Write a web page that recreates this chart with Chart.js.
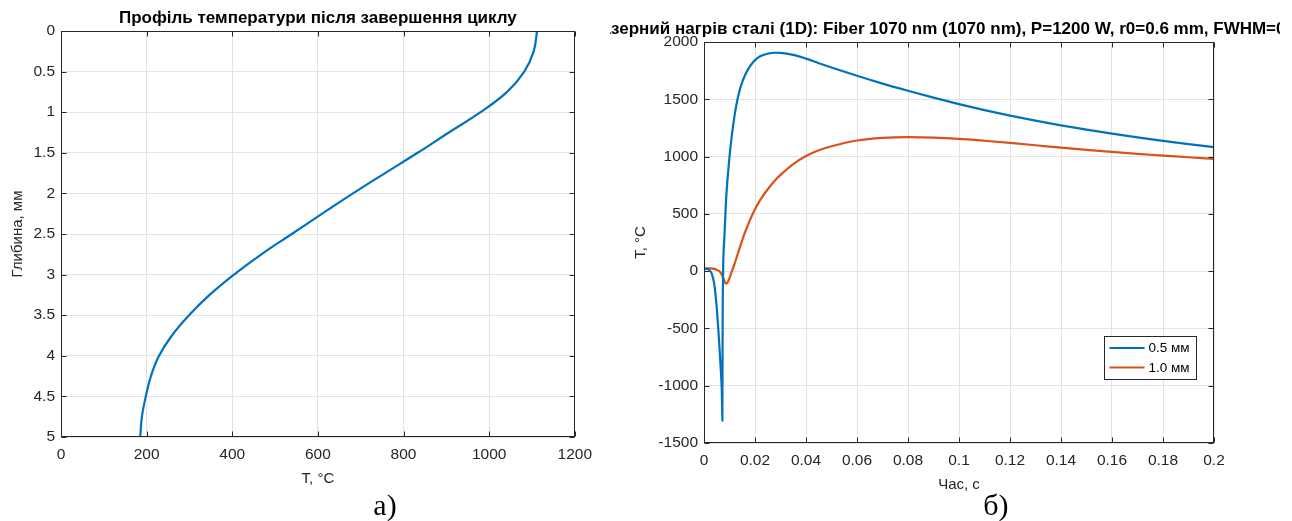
<!DOCTYPE html>
<html lang="uk">
<head>
<meta charset="utf-8">
<title>Профіль температури / Лазерний нагрів сталі</title>
<script src="https://cdn.jsdelivr.net/npm/chart.js@4.4.1/dist/chart.umd.min.js"></script>
<style>
  html, body { margin: 0; padding: 0; background: #fff; }
  body { position: relative; width: 1292px; height: 521px; overflow: hidden; }
  #graficoA { position: absolute; left: 0; top: 0; }
  #graficoB { position: absolute; left: 610px; top: 0; }
  .subtitulo {
    position: absolute; top: 488px; width: 60px; text-align: center;
    font-family: "Liberation Serif", "Times New Roman", serif; font-size: 30px; line-height: 34px; color: #000;
  }
</style>
</head>
<body>
<canvas id="graficoA" width="600" height="489"></canvas>
<canvas id="graficoB" width="670" height="495"></canvas>
<div class="subtitulo" style="left:355px">а)</div>
<div class="subtitulo" style="left:966px">б)</div>
<script>
// Datos del perfil (a): profundidad en mm y temperatura en °C
const profundidad = [0, 0.25, 0.5, 0.75, 1, 1.25, 1.5, 1.75, 2, 2.25, 2.5, 2.75, 3, 3.25, 3.5, 3.75, 4, 4.25, 4.5, 4.75, 5];
const tempPerfil = [1112, 1104, 1082, 1042, 980, 906, 833, 757, 682, 610, 539, 468, 404, 347, 299, 259, 229, 210, 198, 189, 185];
const ticksTempA = [0, 200, 400, 600, 800, 1000, 1200];
const ticksProf = [0, 0.5, 1, 1.5, 2, 2.5, 3, 3.5, 4, 4.5, 5];

// Datos del calentamiento (б): tiempo en s y temperatura para cada radio
const tiempo = [0, 0.001, 0.002, 0.003, 0.004, 0.005, 0.006, 0.0065, 0.007, 0.0072, 0.0073, 0.0075, 0.008, 0.0086, 0.009, 0.0095, 0.01, 0.011, 0.012, 0.013, 0.014, 0.015, 0.016, 0.017, 0.018, 0.019, 0.02, 0.022, 0.025, 0.028, 0.03, 0.035, 0.04, 0.045, 0.05, 0.06, 0.07, 0.08, 0.09, 0.1, 0.11, 0.12, 0.13, 0.14, 0.15, 0.16, 0.17, 0.18, 0.19, 0.2];
const temp05 = [20, 20, 12, -20, -110, -320, -640, -830, -1060, -1306, -500, 0, 300, 600, 740, 875, 1000, 1200, 1360, 1485, 1580, 1650, 1705, 1750, 1787, 1817, 1842, 1876, 1898, 1906, 1905, 1888, 1855, 1815, 1777, 1705, 1637, 1574, 1514, 1458, 1406, 1358, 1314, 1273, 1235, 1200, 1167, 1137, 1109, 1083];
const temp10 = [25, 25, 25, 24, 20, 12, 0, -12, -32, -42, -48, -58, -85, -110, -106, -88, -60, 2, 65, 133, 203, 270, 333, 390, 445, 494, 540, 620, 715, 795, 840, 935, 1005, 1055, 1090, 1140, 1163, 1170, 1166, 1155, 1138, 1119, 1099, 1078, 1059, 1041, 1024, 1009, 994, 980];
const ticksTiempo = [0, 0.02, 0.04, 0.06, 0.08, 0.1, 0.12, 0.14, 0.16, 0.18, 0.2];
const ticksTempB = [-1500, -1000, -500, 0, 500, 1000, 1500, 2000];
const etiquetasLeyenda = ["0.5 мм", "1.0 мм"];

const colorAzul = "#0072BD";
const colorNaranja = "#D95319";
const colorEje = "#262626";
const colorRejilla = "#e3e3e3";
const fuente = "'Liberation Sans', Arial, Helvetica, sans-serif";
const fuenteTicks = { family: fuente, size: 15.5 };
const fuenteEjes = { family: fuente, size: 15 };

// Ticks fijos tomados de las listas de arriba
function fijarTicks(valores) {
  return (scale) => { scale.ticks = valores.map((v) => ({ value: v })); };
}
function formato(v) {
  return String(Math.round(v * 10000) / 10000);
}

// Caja completa con marcas hacia dentro, como en MATLAB
const marcoEjes = {
  id: "marcoEjes",
  afterDatasetsDraw(chart) {
    const { ctx, chartArea: a, scales } = chart;
    const izq = Math.round(a.left) + 0.5;
    const der = Math.round(a.right) - 0.5;
    const arr = Math.round(a.top) + 0.5;
    const abj = Math.round(a.bottom) - 0.5;
    ctx.save();
    ctx.strokeStyle = colorEje;
    ctx.lineWidth = 1;
    ctx.strokeRect(izq, arr, der - izq, abj - arr);
    ctx.beginPath();
    scales.x.ticks.forEach((t) => {
      const px = Math.round(scales.x.getPixelForValue(t.value)) + 0.5;
      ctx.moveTo(px, abj); ctx.lineTo(px, abj - 5);
      ctx.moveTo(px, arr); ctx.lineTo(px, arr + 5);
    });
    scales.y.ticks.forEach((t) => {
      const py = Math.round(scales.y.getPixelForValue(t.value)) + 0.5;
      ctx.moveTo(izq, py); ctx.lineTo(izq + 5, py);
      ctx.moveTo(der, py); ctx.lineTo(der - 5, py);
    });
    ctx.stroke();
    ctx.restore();
  },
};

// Título centrado sobre el área de datos (puede salirse del lienzo)
const tituloEjes = {
  id: "tituloEjes",
  afterDraw(chart, args, opts) {
    const { ctx, chartArea: a } = chart;
    ctx.save();
    ctx.font = "bold 17px " + fuente;
    ctx.fillStyle = "#000";
    ctx.textAlign = "center";
    ctx.textBaseline = "middle";
    ctx.fillText(opts.texto, (a.left + a.right) / 2, a.top - 13);
    ctx.restore();
  },
};

// Leyenda dentro del área, abajo a la derecha
const leyendaInterior = {
  id: "leyendaInterior",
  afterDraw(chart, args, opts) {
    if (!opts.mostrar) return;
    const { ctx, chartArea: a } = chart;
    const ancho = 92, alto = 43;
    const x0 = Math.round(a.right) - 18 - ancho + 0.5;
    const y0 = Math.round(a.bottom) - 64 - alto + 0.5;
    ctx.save();
    ctx.fillStyle = "#fff";
    ctx.fillRect(x0, y0, ancho, alto);
    ctx.strokeStyle = colorEje;
    ctx.lineWidth = 1;
    ctx.strokeRect(x0, y0, ancho, alto);
    ctx.font = "13.5px " + fuente;
    ctx.textBaseline = "middle";
    chart.data.datasets.forEach((ds, i) => {
      const y = y0 + 11.5 + i * 19.5;
      ctx.strokeStyle = ds.borderColor;
      ctx.lineWidth = 2;
      ctx.beginPath();
      ctx.moveTo(x0 + 5, y); ctx.lineTo(x0 + 40, y);
      ctx.stroke();
      ctx.fillStyle = "#000";
      ctx.fillText(ds.label, x0 + 44, y + 0.5);
    });
    ctx.restore();
  },
};

function ejeX(min, max, valores, titulo, alto) {
  return {
    type: "linear", position: "bottom", min: min, max: max,
    afterBuildTicks: fijarTicks(valores),
    afterFit: (s) => { s.height = alto; },
    grid: { color: colorRejilla, drawTicks: false },
    border: { display: false },
    ticks: { color: colorEje, font: fuenteTicks, padding: 8, maxRotation: 0, autoSkip: false, callback: formato },
    title: { display: true, text: titulo, color: colorEje, font: fuenteEjes, padding: { top: 0, bottom: 1 } },
  };
}
function ejeY(min, max, valores, titulo, ancho, margenTitulo, invertir) {
  return {
    type: "linear", position: "left", min: min, max: max, reverse: invertir,
    afterBuildTicks: fijarTicks(valores),
    afterFit: (s) => { s.width = ancho; },
    grid: { color: colorRejilla, drawTicks: false },
    border: { display: false },
    ticks: { color: colorEje, font: fuenteTicks, padding: 6, autoSkip: false, callback: formato },
    title: { display: true, text: titulo, color: colorEje, font: fuenteEjes, padding: { top: margenTitulo, bottom: 0 } },
  };
}

// Gráfico (a): perfil de temperatura con la profundidad
new Chart(document.getElementById("graficoA"), {
  type: "line",
  data: {
    datasets: [{
      label: "perfil",
      data: profundidad.map((p, i) => ({ x: tempPerfil[i], y: p })),
      borderColor: colorAzul, borderWidth: 2.2, pointRadius: 0, fill: false,
      tension: 0.4,
    }],
  },
  options: {
    responsive: false, animation: false,
    layout: { padding: { top: 31, right: 23, bottom: 0, left: 0 } },
    scales: {
      x: ejeX(0, 1200, ticksTempA, "T, °C", 52),
      y: ejeY(0, 5, ticksProf, "Глибина, мм", 61, 9, true),
    },
    plugins: {
      legend: { display: false }, tooltip: { enabled: false },
      tituloEjes: { texto: "Профіль температури після завершення циклу" },
      leyendaInterior: { mostrar: false },
    },
  },
  plugins: [marcoEjes, tituloEjes, leyendaInterior],
});

// Gráfico (б): temperatura en el tiempo para dos radios
new Chart(document.getElementById("graficoB"), {
  type: "line",
  data: {
    datasets: [
      {
        label: etiquetasLeyenda[0],
        data: tiempo.map((t, i) => ({ x: t, y: temp05[i] })),
        borderColor: colorAzul, borderWidth: 2.2, pointRadius: 0, fill: false,
        cubicInterpolationMode: "monotone",
      },
      {
        label: etiquetasLeyenda[1],
        data: tiempo.map((t, i) => ({ x: t, y: temp10[i] })),
        borderColor: colorNaranja, borderWidth: 2.2, pointRadius: 0, fill: false,
        cubicInterpolationMode: "monotone",
      },
    ],
  },
  options: {
    responsive: false, animation: false,
    layout: { padding: { top: 42, right: 66, bottom: 0, left: 0 } },
    scales: {
      x: ejeX(0, 0.2, ticksTiempo, "Час, с", 52),
      y: ejeY(-1500, 2000, ticksTempB, "T, °C", 94, 22, false),
    },
    plugins: {
      legend: { display: false }, tooltip: { enabled: false },
      tituloEjes: { texto: "Лазерний нагрів сталі (1D): Fiber 1070 nm (1070 nm), P=1200 W, r0=0.6 mm, FWHM=0.5 ms" },
      leyendaInterior: { mostrar: true },
    },
  },
  plugins: [marcoEjes, tituloEjes, leyendaInterior],
});
</script>
</body>
</html>
